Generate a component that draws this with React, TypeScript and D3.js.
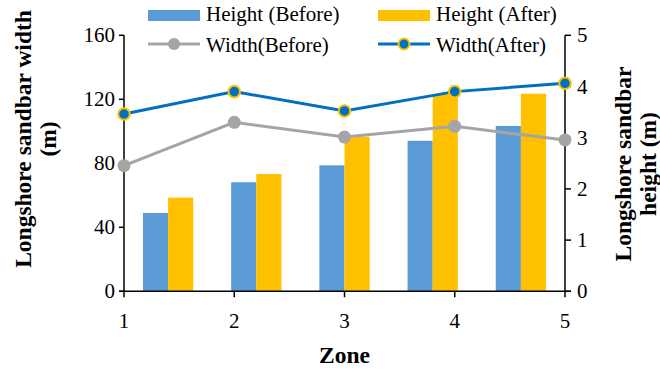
import React from "react";
import * as d3 from "d3";

const zones = [1, 2, 3, 4, 5];
const heightBefore = [1.53, 2.13, 2.46, 2.94, 3.23];
const heightAfter = [1.83, 2.29, 3.02, 3.85, 3.86];
const widthBefore = [78.5, 105.6, 96.4, 103.1, 94.6];
const widthAfter = [110.8, 124.8, 112.7, 124.8, 130];
const leftTicks = [0, 40, 80, 120, 160];
const rightTicks = [0, 1, 2, 3, 4, 5];

const W = 660;
const H = 371;
const m = { left: 124, right: 95, top: 35.3, bottom: 79.7 };
const FONT = "'Liberation Serif', 'Times New Roman', serif";

const BLUE_BAR = "#5b9bd5";
const GOLD = "#ffc000";
const GRAY = "#a5a5a5";
const LINE_BLUE = "#0070c0";

export default function App() {
  const x0 = m.left;
  const x1 = W - m.right;
  const yTop = m.top;
  const yBot = H - m.bottom;

  const xPoint = d3.scalePoint<number>().domain(zones).range([x0, x1]);
  const xBand = d3.scaleBand<number>().domain(zones).range([x0, x1]).paddingInner(0.43).paddingOuter(0.215);
  const yLeft = d3.scaleLinear().domain([0, 160]).range([yBot, yTop]);
  const yRight = d3.scaleLinear().domain([0, 5]).range([yBot, yTop]);

  const bw = xBand.bandwidth() / 2;

  const line = (vals: number[]) =>
    d3.line<number>().x((_, i) => xPoint(zones[i])!).y((v) => yLeft(v))(vals) || "";

  return (
    <svg width={W} height={H} style={{ position: "absolute", left: 0, top: 0, background: "#fff" }} fontFamily={FONT}>
      {/* bars */}
      {zones.map((z, i) => (
        <g key={"b" + z}>
          <rect x={xBand(z)!} y={yRight(heightBefore[i])} width={bw} height={yBot - yRight(heightBefore[i])} fill={BLUE_BAR} />
          <rect x={xBand(z)! + bw} y={yRight(heightAfter[i])} width={bw} height={yBot - yRight(heightAfter[i])} fill={GOLD} />
        </g>
      ))}

      {/* axes */}
      <g stroke="#000" strokeWidth={1.5} fill="none">
        <line x1={x0} x2={x0} y1={yTop} y2={yBot} />
        <line x1={x1} x2={x1} y1={yTop} y2={yBot} />
        <line x1={x0 - 5} x2={x1 + 6} y1={yBot} y2={yBot} />
        {leftTicks.map((t) => (
          <line key={"lt" + t} x1={x0 - 5} x2={x0} y1={yLeft(t)} y2={yLeft(t)} />
        ))}
        {rightTicks.map((t) => (
          <line key={"rt" + t} x1={x1} x2={x1 + 6} y1={yRight(t)} y2={yRight(t)} />
        ))}
        {zones.map((z) => (
          <line key={"xt" + z} x1={xPoint(z)!} x2={xPoint(z)!} y1={yBot} y2={yBot + 6} />
        ))}
      </g>

      {/* tick labels */}
      <g fontSize={21} fill="#000">
        {leftTicks.map((t) => (
          <text key={"ll" + t} x={x0 - 9} y={yLeft(t)} dy="0.34em" textAnchor="end">{t}</text>
        ))}
        {rightTicks.map((t) => (
          <text key={"rl" + t} x={x1 + 12} y={yRight(t)} dy="0.34em" textAnchor="start">{t}</text>
        ))}
        {zones.map((z) => (
          <text key={"xl" + z} x={xPoint(z)!} y={yBot + 37} textAnchor="middle">{z}</text>
        ))}
      </g>

      {/* lines */}
      <path d={line(widthBefore)} fill="none" stroke={GRAY} strokeWidth={3} />
      {widthBefore.map((v, i) => (
        <circle key={"wb" + i} cx={xPoint(zones[i])!} cy={yLeft(v)} r={6.5} fill={GRAY} />
      ))}
      <path d={line(widthAfter)} fill="none" stroke={LINE_BLUE} strokeWidth={3} />
      {widthAfter.map((v, i) => (
        <circle key={"wa" + i} cx={xPoint(zones[i])!} cy={yLeft(v)} r={5.8} fill={LINE_BLUE} stroke={GOLD} strokeWidth={2} />
      ))}

      {/* axis titles */}
      <g fontSize={23.5} fontWeight="bold" fill="#000" textAnchor="middle">
        <text x={(x0 + x1) / 2} y={363}>Zone</text>
        <text transform="translate(31,139) rotate(-90)">Longshore sandbar width</text>
        <text transform="translate(56,139) rotate(-90)">(m)</text>
        <text transform="translate(631,164) rotate(-90)">Longshore sandbar</text>
        <text transform="translate(656,164) rotate(-90)">height (m)</text>
      </g>

      {/* legend */}
      <g fontSize={21} fill="#000">
        <rect x={148} y={10} width={52} height={11} fill={BLUE_BAR} />
        <text x={206} y={21}>Height (Before)</text>
        <rect x={378} y={10} width={52} height={11} fill={GOLD} />
        <text x={436} y={21}>Height (After)</text>
        <line x1={148} x2={200} y1={44} y2={44} stroke={GRAY} strokeWidth={3} />
        <circle cx={174} cy={44} r={6} fill={GRAY} />
        <text x={206} y={52}>Width(Before)</text>
        <line x1={378} x2={430} y1={44} y2={44} stroke={LINE_BLUE} strokeWidth={3} />
        <circle cx={404} cy={44} r={5.5} fill={LINE_BLUE} stroke={GOLD} strokeWidth={2} />
        <text x={436} y={52}>Width(After)</text>
      </g>
    </svg>
  );
}
